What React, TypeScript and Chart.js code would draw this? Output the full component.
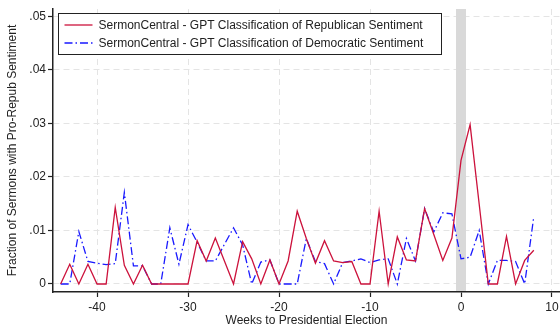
import { useEffect, useRef } from "react";
import { Chart, registerables } from "chart.js";

Chart.register(...registerables);

// Weeks relative to the presidential election (0 = election week)
const weeks = [
  -44, -43, -42, -41, -40, -39, -38, -37, -36, -35, -34, -33, -32, -31, -30,
  -29, -28, -27, -26, -25, -24, -23, -22, -21, -20, -19, -18, -17, -16, -15,
  -14, -13, -12, -11, -10, -9, -8, -7, -6, -5, -4, -3, -2, -1, 0, 1, 2, 3, 4,
  5, 6, 7, 8,
];

// Fraction of sermons flagged as pro-Republican, by classification source
const republicanShare = [
  0, 0.0037, 0, 0.0037, 0, 0, 0.0143, 0.0035, 0, 0.0035, 0, 0, 0, 0, 0,
  0.0081, 0.0043, 0.0086, 0.0043, 0, 0.0079, 0.0047, 0, 0.0045, 0, 0.0043,
  0.0136, 0.0085, 0.0039, 0.0081, 0.0043, 0.004, 0.0042, 0, 0, 0.0136, 0,
  0.0088, 0.0045, 0.0043, 0.0141, 0.0093, 0.0044, 0.0086, 0.0231, 0.0298,
  0.0149, 0, 0, 0.0089, 0, 0.0044, 0.0063,
];

const democraticShare = [
  0, 0, 0.0098, 0.0042, 0.0039, 0.0036, 0.0038, 0.0171, 0.0034, 0.0034, 0, 0,
  0.0105, 0.0037, 0.0111, 0.0078, 0.0043, 0.0043, 0.0074, 0.0105, 0.0073, 0,
  0.0041, 0.0045, 0, 0, 0, 0.0085, 0.0042, 0.0038, 0, 0.004, 0.0043, 0.0047,
  0.004, 0.0045, 0.0047, 0, 0.0085, 0.0043, 0.0141, 0.0097, 0.0133, 0.0131,
  0.0047, 0.005, 0.01, 0, 0.0044, 0.0044, 0.0042, 0, 0.0126,
];

const seriesLabels = [
  "SermonCentral - GPT Classification of Republican Sentiment",
  "SermonCentral - GPT Classification of Democratic Sentiment",
];

const xTickValues = [-40, -30, -20, -10, 0, 10];
const yTickValues = [0, 0.01, 0.02, 0.03, 0.04, 0.05];
const electionWeek = 0;

const FONT = '"Liberation Sans", Arial, Helvetica, sans-serif';
const INK = "#222222";
const RED = "rgb(204, 18, 60)";
const BLUE = "rgb(25, 25, 255)";

// Shaded band marking the election week
const electionBand = {
  id: "electionBand",
  beforeDatasetsDraw(chart: any) {
    const { ctx, chartArea, scales } = chart;
    const x0 = scales.x.getPixelForValue(electionWeek - 0.55);
    const x1 = scales.x.getPixelForValue(electionWeek + 0.55);
    ctx.save();
    ctx.fillStyle = "#d9d9d9";
    ctx.fillRect(x0, chartArea.top, x1 - x0, chartArea.bottom - chartArea.top - 1);
    ctx.restore();
  },
};

// Framed legend in the upper-left corner of the plot
const boxedLegend = {
  id: "boxedLegend",
  afterDraw(chart: any) {
    const { ctx, chartArea } = chart;
    const datasets = chart.data.datasets;
    ctx.save();
    ctx.font = `12px ${FONT}`;
    const left = Math.round(chartArea.left + 5) + 0.5;
    const top = Math.round(chartArea.top + 4) + 0.5;
    const textOffset = 40;
    const maxText = Math.max(...datasets.map((d: any) => ctx.measureText(d.label).width));
    const w = Math.round(textOffset + maxText + 18);
    const h = 41;
    ctx.fillStyle = "#ffffff";
    ctx.fillRect(left, top, w, h);
    ctx.strokeStyle = INK;
    ctx.lineWidth = 1;
    ctx.strokeRect(left, top, w, h);
    datasets.forEach((d: any, i: number) => {
      const y = top + 11.5 + i * 18;
      ctx.strokeStyle = d.borderColor;
      ctx.lineWidth = d.borderWidth;
      ctx.setLineDash(d.borderDash || []);
      ctx.beginPath();
      ctx.moveTo(left + 6, y);
      ctx.lineTo(left + 34, y);
      ctx.stroke();
      ctx.setLineDash([]);
      ctx.fillStyle = INK;
      ctx.textBaseline = "middle";
      ctx.textAlign = "left";
      ctx.fillText(d.label, left + textOffset, y + 0.5);
    });
    ctx.restore();
  },
};

export default function App() {
  const canvasRef = useRef<HTMLCanvasElement>(null);

  useEffect(() => {
    const canvas = canvasRef.current;
    if (!canvas) return;
    Chart.defaults.font.family = FONT;

    const chart = new Chart(canvas, {
      type: "line",
      data: {
        datasets: [
          {
            label: seriesLabels[0],
            data: weeks.map((w, i) => ({ x: w, y: republicanShare[i] })),
            borderColor: RED,
            borderWidth: 1.3,
            pointRadius: 0,
            tension: 0,
            fill: false,
          },
          {
            label: seriesLabels[1],
            data: weeks.map((w, i) => ({ x: w, y: democraticShare[i] })),
            borderColor: BLUE,
            borderWidth: 1.3,
            borderDash: [8, 3, 1.5, 3],
            pointRadius: 0,
            tension: 0,
            fill: false,
          },
        ],
      },
      options: {
        responsive: false,
        animation: false,
        devicePixelRatio: 1,
        layout: { padding: { top: 9, left: 0, right: 0, bottom: 0 } },
        plugins: {
          legend: { display: false },
          tooltip: { enabled: false },
        },
        scales: {
          x: {
            type: "linear",
            min: -44.84,
            max: 10.88,
            afterBuildTicks: (s: any) => {
              s.ticks = xTickValues.map((v) => ({ value: v }));
            },
            afterFit: (s: any) => {
              s.height = 38;
              s.paddingLeft = 0;
              s.paddingRight = 0;
            },
            grid: {
              color: "#e4e4e4",
              lineWidth: 1,
              tickColor: INK,
              tickLength: 5,
              tickWidth: 1.2,
            },
            border: { color: INK, width: 1.5, dash: [6, 4] },
            ticks: {
              color: INK,
              font: { size: 12 },
              padding: 3,
              maxRotation: 0,
              autoSkip: false,
              callback: (v: any) => String(v),
            },
            title: {
              display: true,
              text: "Weeks to Presidential Election",
              color: INK,
              font: { size: 12 },
              padding: { top: 0, bottom: 2 },
            },
          },
          y: {
            type: "linear",
            min: -0.0015,
            max: 0.0514,
            afterBuildTicks: (s: any) => {
              s.ticks = yTickValues.map((v) => ({ value: v }));
            },
            afterFit: (s: any) => {
              s.width = 53;
              s.paddingTop = 0;
              s.paddingBottom = 0;
            },
            grid: {
              color: "#e4e4e4",
              lineWidth: 1,
              tickColor: INK,
              tickLength: 5,
              tickWidth: 1.2,
            },
            border: { color: INK, width: 1.5, dash: [6, 4] },
            ticks: {
              color: INK,
              font: { size: 12 },
              padding: 2,
              autoSkip: false,
              callback: (v: any) =>
                Number(v) === 0 ? "0" : Number(v).toFixed(2).replace(/^0/, ""),
            },
            title: {
              display: true,
              text: "Fraction of Sermons with Pro-Repub Sentiment",
              color: INK,
              font: { size: 12 },
              padding: { top: 5, bottom: 0 },
            },
          },
        },
      },
      plugins: [electionBand, boxedLegend],
    } as any);

    return () => chart.destroy();
  }, []);

  return (
    <div style={{ position: "absolute", left: 0, top: 0, width: 560, height: 330, background: "#fff" }}>
      <canvas ref={canvasRef} width={560} height={330} />
    </div>
  );
}
